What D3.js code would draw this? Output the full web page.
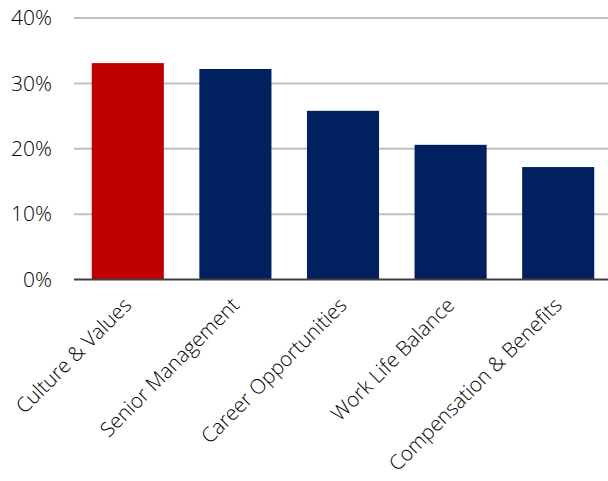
<!DOCTYPE html>
<html>
<head>
<meta charset="utf-8">
<script src="https://cdn.jsdelivr.net/npm/d3@7"></script>
<style>
  html, body { margin: 0; padding: 0; background: #fff; }
  svg text { font-family: "Open Sans", "Noto Sans", sans-serif; font-weight: 300; fill: #000; }
</style>
</head>
<body>
<svg id="chart" width="608" height="481"></svg>
<script>
// Share of mentions by review topic
const categories = ["Culture & Values", "Senior Management", "Career Opportunities", "Work Life Balance", "Compensation & Benefits"];
const shares = [0.331, 0.322, 0.258, 0.206, 0.172];
const barColors = ["#C00000", "#002060", "#002060", "#002060", "#002060"];
const yTicks = [0, 0.1, 0.2, 0.3, 0.4];

const svg = d3.select("#chart");
const margin = { left: 74, right: -4, top: 18, bottom: 201 };
const width = 608, height = 481;

const x = d3.scaleBand()
  .domain(categories)
  .range([margin.left, width - margin.right])
  .paddingInner(0.33)
  .paddingOuter(0.165);

const y = d3.scaleLinear()
  .domain([0, 0.4])
  .range([height - margin.bottom - 0.5, margin.top]);

// Horizontal gridlines
svg.append("g")
  .selectAll("line")
  .data(yTicks.filter(t => t > 0))
  .join("line")
  .attr("x1", margin.left)
  .attr("x2", width)
  .attr("y1", d => y(d))
  .attr("y2", d => y(d))
  .attr("stroke", "#c0c0c0")
  .attr("stroke-width", 2);

// Bars
svg.append("g")
  .selectAll("rect")
  .data(categories)
  .join("rect")
  .attr("x", d => x(d))
  .attr("width", x.bandwidth())
  .attr("y", (d, i) => y(shares[i]))
  .attr("height", (d, i) => y(0) - y(shares[i]))
  .attr("fill", (d, i) => barColors[i]);

// Baseline
svg.append("line")
  .attr("x1", margin.left)
  .attr("x2", width)
  .attr("y1", y(0))
  .attr("y2", y(0))
  .attr("stroke", "#404040")
  .attr("stroke-width", 2);

// Y axis labels
const yAxis = d3.axisLeft(y)
  .tickValues(yTicks)
  .tickFormat(d3.format(".0%"))
  .tickSize(0)
  .tickPadding(22);

const yg = svg.append("g")
  .attr("transform", `translate(${margin.left},0)`)
  .call(yAxis);
yg.select(".domain").remove();
yg.selectAll("text")
  .attr("font-size", 21)
  .style("font-family", "\"Open Sans\", sans-serif")
  .style("font-weight", 300)
  .attr("fill", "#000");

// X axis labels, rotated
const xAxis = d3.axisBottom(x).tickSize(0).tickPadding(0);
const xg = svg.append("g")
  .attr("transform", `translate(0,${y(0)})`)
  .call(xAxis);
xg.select(".domain").remove();
xg.selectAll("text")
  .attr("font-size", 20.5)
  .style("font-family", "\"Open Sans\", sans-serif")
  .style("font-weight", 300)
  .attr("fill", "#000")
  .attr("text-anchor", "end")
  .attr("dy", null)
  .attr("y", 0)
  .attr("transform", "translate(5,27) rotate(-45)");
</script>
</body>
</html>
